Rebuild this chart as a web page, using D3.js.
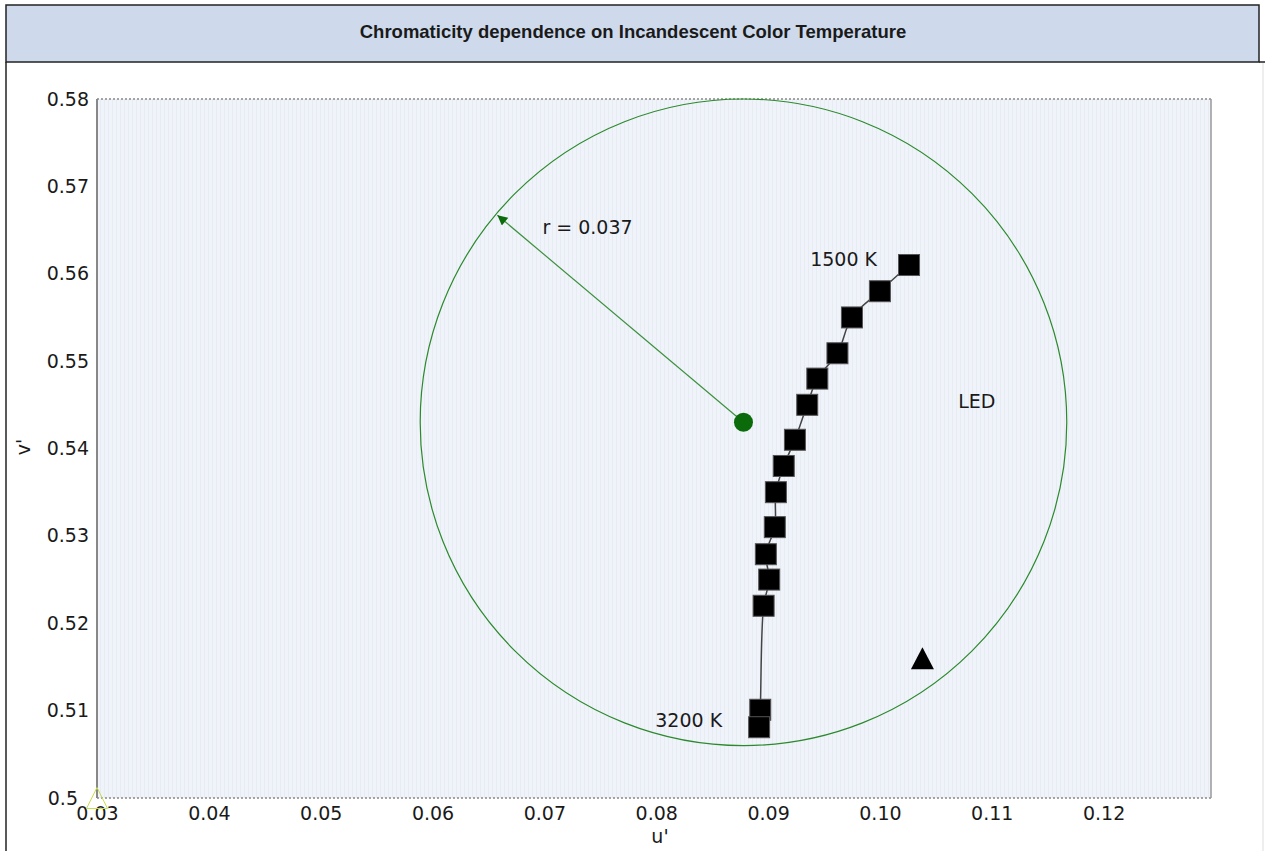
<!DOCTYPE html>
<html>
<head>
<meta charset="utf-8">
<script src="https://cdn.jsdelivr.net/npm/d3@7"></script>
<style>
  body { margin: 0; background: #fff; }
  svg { display: block; }
  text { font-family: "DejaVu Sans", Verdana, sans-serif; fill: #1a1a1a; }
  .title { font-family: "Liberation Sans", Arial, sans-serif; font-weight: bold; font-size: 18.5px; }
</style>
</head>
<body>
<svg id="area" width="1265" height="851"></svg>
<script>
// chart data
const title = 'Chromaticity dependence on Incandescent Color Temperature';
const xTicks = [0.03, 0.04, 0.05, 0.06, 0.07, 0.08, 0.09, 0.10, 0.11, 0.12];
const xTickLabels = ['0.03', '0.04', '0.05', '0.06', '0.07', '0.08', '0.09', '0.10', '0.11', '0.12'];
const yTicks = [0.5, 0.51, 0.52, 0.53, 0.54, 0.55, 0.56, 0.57, 0.58];
const yTickLabels = ['0.5', '0.51', '0.52', '0.53', '0.54', '0.55', '0.56', '0.57', '0.58'];

// incandescent locus, 1500 K -> 3200 K
const locusU = [0.1026, 0.1000, 0.0975, 0.0962, 0.0944, 0.0935, 0.0924, 0.0914, 0.0907, 0.0906, 0.0898, 0.0901, 0.0896, 0.0893, 0.0892];
const locusV = [0.5610, 0.5580, 0.5550, 0.5509, 0.5480, 0.5450, 0.5410, 0.5380, 0.5350, 0.5310, 0.5279, 0.5250, 0.5220, 0.5101, 0.5081];

const ledPoint = [0.1038, 0.5160];
const refPoint = [0.03, 0.5];
const circleCenter = [0.0878, 0.543];
const circleRadius = 0.037;
const arrowTip = [0.0658, 0.5667];
const annotations = [{ text: 'LED', u: 0.107, v: 0.5446 }];

const svg = d3.select('#area');
const width = 1265;
const height = 851;
const fontSize = 19;

const x = d3.scaleLinear().domain([0.03, 0.1296]).range([97, 1211]);
const y = d3.scaleLinear().domain([0.5, 0.58]).range([798, 99]);

// title band and frame
svg.append('rect')
  .attr('x', 6).attr('y', 5).attr('width', 1253).attr('height', 57)
  .attr('fill', '#cedaec').attr('stroke', '#222').attr('stroke-width', 1.5);
svg.append('line')
  .attr('x1', 1259).attr('x2', width).attr('y1', 62).attr('y2', 62)
  .attr('stroke', '#222').attr('stroke-width', 1.5);
svg.append('line')
  .attr('x1', 6).attr('x2', 6).attr('y1', 62).attr('y2', height)
  .attr('stroke', '#222').attr('stroke-width', 1.5);
svg.append('line')
  .attr('x1', 1263).attr('x2', 1263).attr('y1', 63).attr('y2', height)
  .attr('stroke', '#ddd').attr('stroke-width', 1);
svg.append('text')
  .attr('class', 'title')
  .attr('x', 633).attr('y', 38)
  .attr('text-anchor', 'middle')
  .text(title);

// plot background with fine vertical stripes
const defs = svg.append('defs');
const pat = defs.append('pattern')
  .attr('id', 'stripes')
  .attr('patternUnits', 'userSpaceOnUse')
  .attr('width', 4).attr('height', 10);
pat.append('rect').attr('width', 4).attr('height', 10).attr('fill', '#f0f3fa');
pat.append('rect').attr('width', 1).attr('height', 10).attr('fill', '#e6ebf4');

defs.append('marker')
  .attr('id', 'arrow')
  .attr('viewBox', '0 0 10 10')
  .attr('refX', 10).attr('refY', 5)
  .attr('markerUnits', 'userSpaceOnUse')
  .attr('markerWidth', 12).attr('markerHeight', 10)
  .attr('orient', 'auto')
  .append('path')
  .attr('d', 'M0,0 L10,5 L0,10 Z')
  .attr('fill', '#0b6b0b');

const [x0, x1] = x.range();
const [y1, y0] = y.range();
svg.append('rect')
  .attr('x', x0).attr('y', y0)
  .attr('width', x1 - x0).attr('height', y1 - y0)
  .attr('fill', 'url(#stripes)');

// frame: solid left/right, dotted top/bottom
svg.append('line')
  .attr('x1', x0).attr('x2', x1).attr('y1', y0).attr('y2', y0)
  .attr('stroke', '#888').attr('stroke-width', 1.5).attr('stroke-dasharray', '2,2');
svg.append('line')
  .attr('x1', x0).attr('x2', x1).attr('y1', y1).attr('y2', y1)
  .attr('stroke', '#888').attr('stroke-width', 1.5).attr('stroke-dasharray', '2,2');
svg.append('line')
  .attr('x1', x0).attr('x2', x0).attr('y1', y0).attr('y2', y1)
  .attr('stroke', '#888').attr('stroke-width', 2);
svg.append('line')
  .attr('x1', x1).attr('x2', x1).attr('y1', y0).attr('y2', y1)
  .attr('stroke', '#999').attr('stroke-width', 1.5);

// axes (labels only, no tick marks)
const xAxis = svg.append('g')
  .attr('transform', `translate(0,${y1})`)
  .call(d3.axisBottom(x).tickValues(xTicks).tickSize(0).tickPadding(9)
    .tickFormat((d, i) => xTickLabels[i]));
const yAxis = svg.append('g')
  .attr('transform', `translate(${x0},0)`)
  .call(d3.axisLeft(y).tickValues(yTicks).tickSize(0).tickPadding(8)
    .tickFormat((d, i) => yTickLabels[i]));
[xAxis, yAxis].forEach((g) => {
  g.select('.domain').remove();
  g.selectAll('text')
    .attr('font-family', '"DejaVu Sans", Verdana, sans-serif')
    .attr('font-size', fontSize)
    .attr('fill', '#1a1a1a');
});
// the lowest v' label sits left of the corner so it clears "0.03"
yAxis.selectAll('.tick text')
  .filter((d) => d === yTicks[0])
  .attr('x', -19);

svg.append('text')
  .attr('x', 660).attr('y', 843)
  .attr('text-anchor', 'middle')
  .attr('font-size', fontSize)
  .text("u'");
svg.append('text')
  .attr('transform', 'translate(30,447) rotate(-90)')
  .attr('text-anchor', 'middle')
  .attr('font-size', fontSize)
  .text("v'");

// tolerance circle, radius in v' units
const rPx = y(circleCenter[1] - circleRadius) - y(circleCenter[1]);
svg.append('circle')
  .attr('cx', x(circleCenter[0])).attr('cy', y(circleCenter[1]))
  .attr('r', rPx)
  .attr('fill', 'none')
  .attr('stroke', '#2b8a2b')
  .attr('stroke-width', 1.2);

svg.append('line')
  .attr('x1', x(circleCenter[0])).attr('y1', y(circleCenter[1]))
  .attr('x2', x(arrowTip[0])).attr('y2', y(arrowTip[1]))
  .attr('stroke', '#3c913c')
  .attr('stroke-width', 1.2)
  .attr('marker-end', 'url(#arrow)');

svg.append('circle')
  .attr('cx', x(circleCenter[0])).attr('cy', y(circleCenter[1]))
  .attr('r', 9.5)
  .attr('fill', '#0b6b0b');

svg.append('text')
  .attr('x', x(arrowTip[0]) + 45).attr('y', y(arrowTip[1]) + 19)
  .attr('font-size', fontSize)
  .text(`r = ${circleRadius}`);

// locus line and squares
const locus = locusU.map((u, i) => ({ u, v: locusV[i] }));
const line = d3.line()
  .x((d) => x(d.u))
  .y((d) => y(d.v))
  .curve(d3.curveCatmullRom);

svg.append('path')
  .datum(locus)
  .attr('d', line)
  .attr('fill', 'none')
  .attr('stroke', '#444')
  .attr('stroke-width', 1.5);

svg.append('g')
  .selectAll('rect')
  .data(locus)
  .join('rect')
  .attr('x', (d) => x(d.u) - 10.5)
  .attr('y', (d) => y(d.v) - 10.5)
  .attr('width', 21)
  .attr('height', 21)
  .attr('fill', '#000')
  .attr('stroke', '#555')
  .attr('stroke-width', 1);

const first = locus[0];
const last = locus[locus.length - 1];
svg.append('text')
  .attr('x', x(first.u) - 32).attr('y', y(first.v) + 1)
  .attr('text-anchor', 'end')
  .attr('font-size', fontSize)
  .text('1500 K');
svg.append('text')
  .attr('x', x(last.u) - 37).attr('y', y(last.v))
  .attr('text-anchor', 'end')
  .attr('font-size', fontSize)
  .text('3200 K');

// LED point
svg.append('path')
  .attr('transform', `translate(${x(ledPoint[0])},${y(ledPoint[1])})`)
  .attr('d', 'M0,-11 L11.5,11 L-11.5,11 Z')
  .attr('fill', '#000');

// reference point (hollow)
svg.append('path')
  .attr('transform', `translate(${x(refPoint[0])},${y(refPoint[1])})`)
  .attr('d', 'M0,-10.5 L10.5,10.5 L-10.5,10.5 Z')
  .attr('fill', 'none')
  .attr('stroke', '#c6e04a')
  .attr('stroke-width', 1);

svg.append('g')
  .selectAll('text')
  .data(annotations)
  .join('text')
  .attr('x', (d) => x(d.u))
  .attr('y', (d) => y(d.v))
  .attr('font-size', fontSize)
  .text((d) => d.text);
</script>
</body>
</html>
